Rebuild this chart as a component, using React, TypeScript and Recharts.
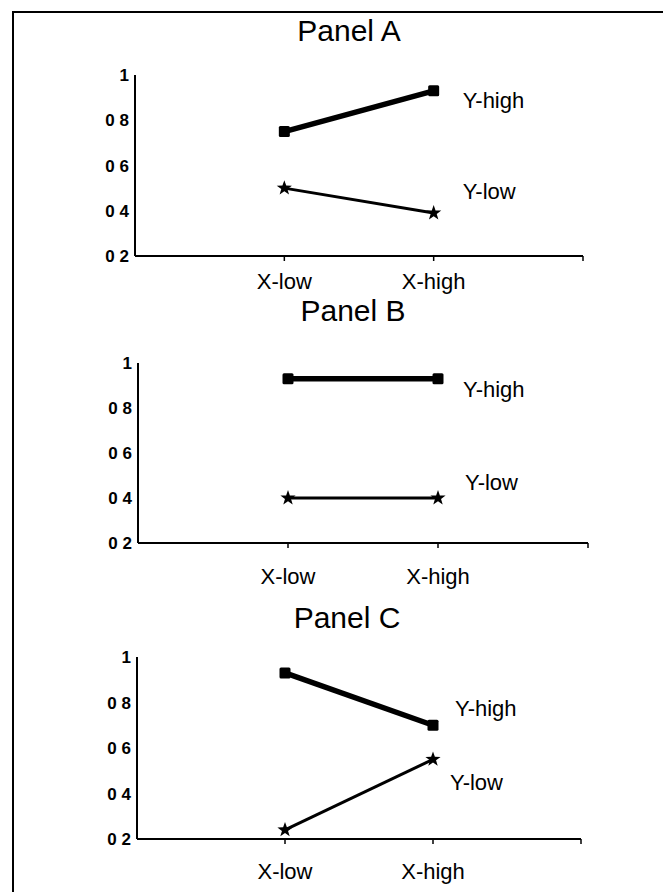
import React from "react";
import { LineChart, Line, XAxis, YAxis, LabelList } from "recharts";

const categories = ["X-low", "X-high"];
const seriesNames = ["Y-high", "Y-low"];
const panelTitles = ["Panel A", "Panel B", "Panel C"];
const yTicks = [0.2, 0.4, 0.6, 0.8, 1];

const panelAHigh = [0.75, 0.93];
const panelALow = [0.5, 0.39];
const panelBHigh = [0.93, 0.93];
const panelBLow = [0.4, 0.4];
const panelCHigh = [0.93, 0.7];
const panelCLow = [0.24, 0.55];

const FONT = "'Liberation Sans', Arial, Helvetica, sans-serif";

const buildRows = (high: number[], low: number[]) =>
  categories.map((c, i) => ({ pos: i + 1, name: c, high: high[i], low: low[i] }));

// layout for each panel (px within the 663x892 page)
const panels = [
  {
    title: panelTitles[0], rows: buildRows(panelAHigh, panelALow),
    top: 0, height: 300, mTop: 75, mRight: 80, yW: 135, xH: 44, tickGap: 12,
    titleX: 349, titleBase: 43,
    hiLabel: { dx: 29, dy: 17 }, loLabel: { dx: 29, dy: -14 },
  },
  {
    title: panelTitles[1], rows: buildRows(panelBHigh, panelBLow),
    top: 300, height: 290, mTop: 63, mRight: 75, yW: 138, xH: 47, tickGap: 20,
    titleX: 353, titleBase: 323,
    hiLabel: { dx: 25, dy: 18 }, loLabel: { dx: 27, dy: -8 },
  },
  {
    title: panelTitles[2], rows: buildRows(panelCHigh, panelCLow),
    top: 590, height: 302, mTop: 67, mRight: 82, yW: 137, xH: 53, tickGap: 19,
    titleX: 347, titleBase: 630,
    hiLabel: { dx: 22, dy: -9 }, loLabel: { dx: 17, dy: 31 },
  },
];

const SquareDot = (p: any) => (
  <rect key={`sq-${p.index}`} x={p.cx - 5.5} y={p.cy - 5.5} width={11} height={11} rx={1.5} fill="#000" />
);

const starPath = (cx: number, cy: number, ro: number, ri: number) => {
  const pts: string[] = [];
  for (let k = 0; k < 10; k++) {
    const r = k % 2 === 0 ? ro : ri;
    const a = -Math.PI / 2 + (k * Math.PI) / 5;
    pts.push(`${(cx + r * Math.cos(a)).toFixed(2)},${(cy + r * Math.sin(a)).toFixed(2)}`);
  }
  return `M${pts.join("L")}Z`;
};

const StarDot = (p: any) => (
  <path key={`st-${p.index}`} d={starPath(p.cx, p.cy, 8, 3.2)} fill="#000" />
);

const seriesLabel = (text: string, off: { dx: number; dy: number }) => (p: any) => {
  if (p.index !== categories.length - 1) return null;
  return (
    <text x={Number(p.x) + off.dx} y={Number(p.y) + off.dy} fontSize={22} fontFamily={FONT} fill="#000">
      {text}
    </text>
  );
};

const yFmt = (v: number) => (v === 1 ? "1" : `0 ${Math.round(v * 10)}`);

function Panel({ cfg }: { cfg: (typeof panels)[number] }) {
  return (
    <>
      <div
        style={{
          position: "absolute", left: cfg.titleX - 150, width: 300, top: cfg.titleBase - 27,
          textAlign: "center", fontFamily: FONT, fontSize: 30, lineHeight: "30px", color: "#000",
        }}
      >
        {cfg.title}
      </div>
      <div style={{ position: "absolute", left: 0, top: cfg.top }}>
        <LineChart
          width={663}
          height={cfg.height}
          data={cfg.rows}
          margin={{ top: cfg.mTop, right: cfg.mRight, left: 0, bottom: 0 }}
        >
          <XAxis
            dataKey="pos"
            type="number"
            domain={[0, 3]}
            ticks={[1, 2, 3]}
            tickFormatter={(v) => categories[v - 1] ?? ""}
            height={cfg.xH}
            axisLine={{ stroke: "#000", strokeWidth: 2 }}
            tickLine={{ stroke: "#000", strokeWidth: 1.5 }}
            tickSize={5}
            tickMargin={cfg.tickGap}
            tick={{ fill: "#000", fontSize: 22, fontFamily: FONT }}
            interval={0}
          />
          <YAxis
            type="number"
            domain={[0.2, 1]}
            ticks={yTicks}
            tickFormatter={yFmt}
            width={cfg.yW}
            axisLine={{ stroke: "#000", strokeWidth: 2 }}
            tickLine={false}
            tickSize={4}
            tickMargin={2}
            tick={{ fill: "#000", fontSize: 17, fontFamily: FONT, fontWeight: "bold" }}
            interval={0}
          />
          <Line
            dataKey="high"
            name={seriesNames[0]}
            stroke="#000"
            strokeWidth={5.5}
            dot={SquareDot}
            activeDot={false}
            isAnimationActive={false}
          >
            <LabelList dataKey="high" content={seriesLabel(seriesNames[0], cfg.hiLabel)} />
          </Line>
          <Line
            dataKey="low"
            name={seriesNames[1]}
            stroke="#000"
            strokeWidth={3}
            dot={StarDot}
            activeDot={false}
            isAnimationActive={false}
          >
            <LabelList dataKey="low" content={seriesLabel(seriesNames[1], cfg.loLabel)} />
          </Line>
        </LineChart>
      </div>
    </>
  );
}

export default function App() {
  return (
    <div style={{ position: "absolute", left: 0, top: 0, width: 663, height: 892, background: "#fff", overflow: "hidden" }}>
      {/* scanned frame: top and left edges only */}
      <div style={{ position: "absolute", left: 12, top: 11, width: 651, height: 881, borderLeft: "2px solid #000", borderTop: "2px solid #000" }} />
      {panels.map((cfg) => (
        <Panel key={cfg.title} cfg={cfg} />
      ))}
    </div>
  );
}
